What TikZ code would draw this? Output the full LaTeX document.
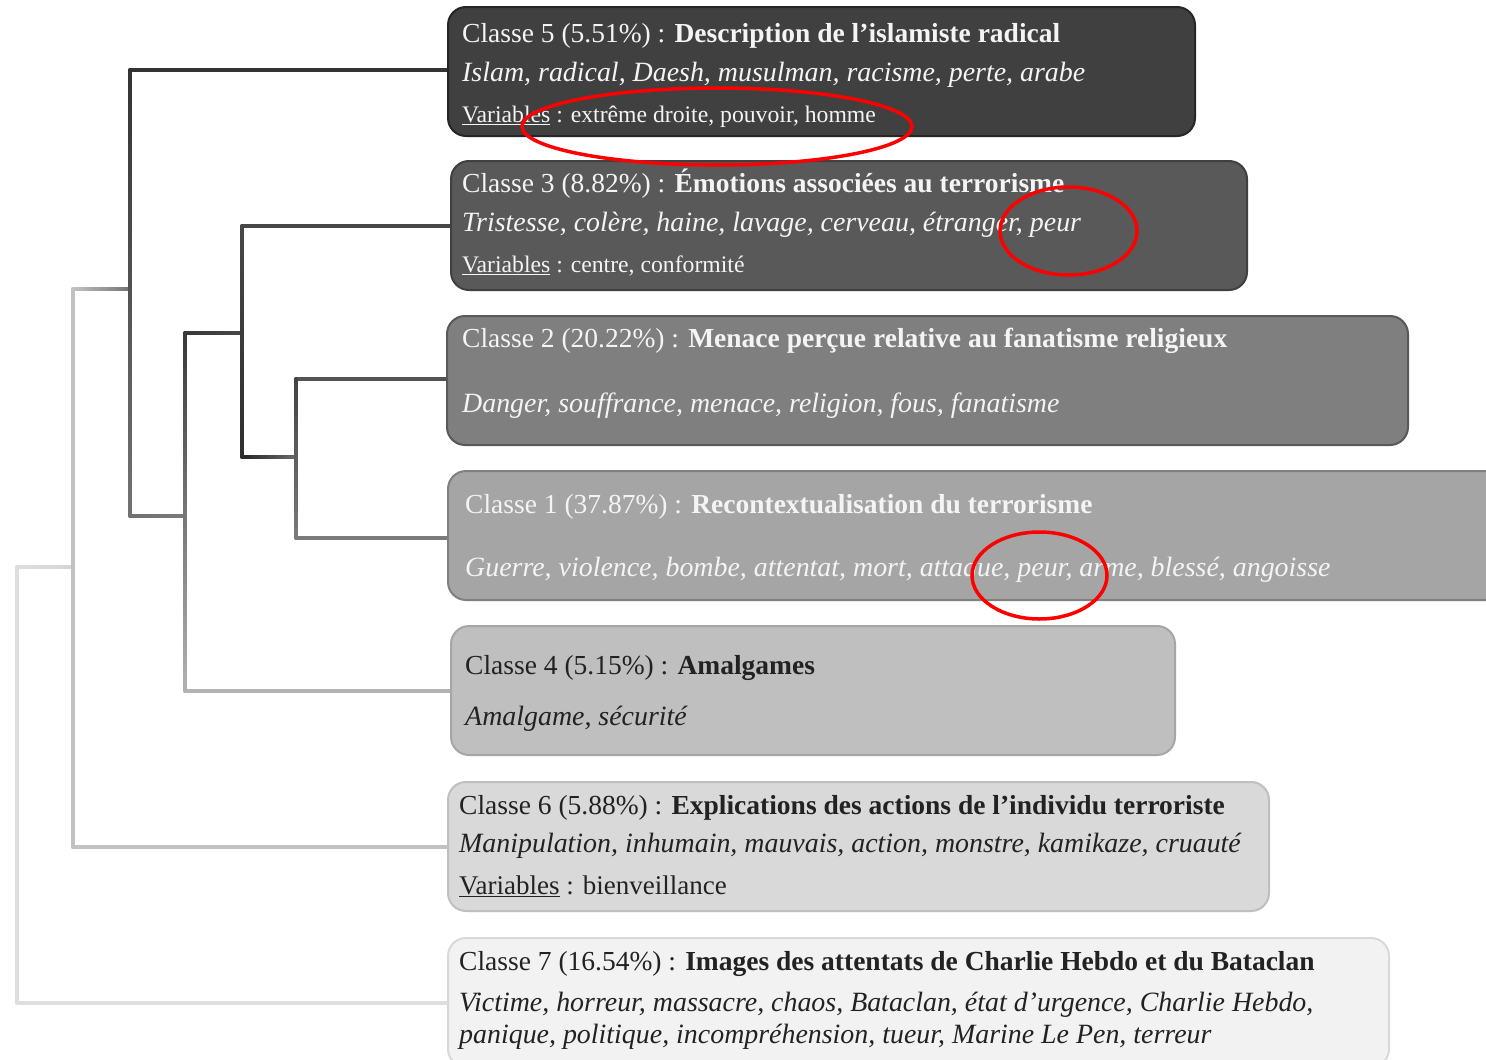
\documentclass[tikz,border=0pt]{standalone}
\usepackage{fontspec}
\setmainfont{Liberation Serif}
\usetikzlibrary{calc,backgrounds}
\definecolor{f5}{HTML}{404040}\definecolor{b5}{HTML}{262626}
\definecolor{f3}{HTML}{595959}\definecolor{b3}{HTML}{404040}
\definecolor{f2}{HTML}{7F7F7F}\definecolor{b2}{HTML}{595959}
\definecolor{f1}{HTML}{A5A5A5}\definecolor{b1}{HTML}{808080}
\definecolor{f4}{HTML}{BFBFBF}\definecolor{b4}{HTML}{A6A6A6}
\definecolor{f6}{HTML}{D9D9D9}\definecolor{b6}{HTML}{BFBFBF}
\definecolor{f7}{HTML}{F2F2F2}\definecolor{b7}{HTML}{D9D9D9}
\definecolor{lighttxt}{HTML}{F4F4F4}
\definecolor{darktxt}{HTML}{222222}
\newcommand\hseg[4]{\shade[left color=#3,right color=#4] ($(#1)+(0,-1.5)$) rectangle ($(#2)+(0,1.5)$);}
\newcommand\vseg[4]{\shade[top color=#3,bottom color=#4] ($(#1)+(-1.5,-1.5)$) rectangle ($(#2)+(1.5,1.5)$);}
\tikzset{
  cbox/.style={draw, rounded corners=18pt, line width=2pt, anchor=north west, minimum height=129pt, inner sep=0pt},
  ttl/.style={anchor=base west, inner sep=0pt, font=\fontsize{27.5}{33}\selectfont},
  itl/.style={anchor=base west, inner sep=0pt, font=\fontsize{27.9}{33}\selectfont\itshape},
  sml/.style={anchor=base west, inner sep=0pt, font=\fontsize{23.7}{28}\selectfont},
  lt/.style={text=lighttxt},
  dk/.style={text=darktxt},
  redring/.style={draw=red, line width=3.5pt}
}
\begin{document}
\begin{tikzpicture}[x=1pt,y=-1pt]
\useasboundingbox (0,0) rectangle (1486,1060);
\clip (0,0) rectangle (1486,1060);
% boxes
\node[cbox, fill=f5, draw=b5, minimum width=747pt] (n5) at (447,6) {};
\node[cbox, fill=f3, draw=b3, minimum width=796pt] (n3) at (450,160) {};
\node[cbox, fill=f2, draw=b2, minimum width=961pt] (n2) at (446,315) {};
\node[cbox, fill=f1, draw=b1, minimum width=1100pt] (n1) at (447,470) {};
\node[cbox, fill=f4, draw=b4, minimum width=724pt] (n4) at (450,625) {};
\node[cbox, fill=f6, draw=b6, minimum width=821pt] (n6) at (447,781) {};
\node[cbox, fill=f7, draw=b7, minimum width=941pt] (n7) at (447,937) {};
% joints
\coordinate (a) at (296,457);
\coordinate (b) at (242,333);
\coordinate (c) at (185,516);
\coordinate (d) at (130,289);
\coordinate (e) at (73,567);
\coordinate (f) at (17,784);
\coordinate (k5) at ($(n5.west -| d)+(0,-1.5)$);
\coordinate (k3) at (n3.west -| b);
\coordinate (k2) at ($(n2.west -| a)+(0,-2)$);
\coordinate (k1) at ($(n1.west -| a)+(0,2.5)$);
\coordinate (ka) at (a -| b);
\coordinate (kb) at (b -| c);
\coordinate (k4) at (n4.west -| c);
\coordinate (kc) at (c -| d);
\coordinate (kd) at (d -| e);
\coordinate (k6) at (n6.west -| e);
\coordinate (ke) at (e -| f);
\coordinate (k7) at (n7.west -| f);
\begin{scope}[on background layer]
\fill[white] (0,0) rectangle (1486,1060);
\hseg{k5}{k5 -| n5.west}{black!80}{black!80}
\hseg{k3}{n3.west}{black!72}{black!72}
\hseg{k2}{k2 -| n2.west}{black!67}{black!67}
\hseg{k1}{k1 -| n1.west}{black!52}{black!52}
\hseg{ka}{a}{black!85}{black!58}
\hseg{kb}{b}{black!78}{black!72}
\hseg{k4}{n4.west}{black!30}{black!30}
\hseg{kc}{c}{black!56}{black!52}
\hseg{kd}{d}{black!24}{black!55}
\hseg{k6}{n6.west}{black!24}{black!24}
\hseg{ke}{e}{black!13}{black!16}
\hseg{k7}{n7.west}{black!13}{black!13}
\vseg{k2}{k1}{black!74}{black!52}
\vseg{k3}{ka}{black!72}{black!82}
\vseg{kb}{k4}{black!78}{black!30}
\vseg{k5}{kc}{black!80}{black!55}
\vseg{kd}{k6}{black!24}{black!24}
\vseg{ke}{k7}{black!13}{black!13}
\end{scope}
% texts
\node[ttl, lt] (t5a) at (462,42.5) {Classe 5 (5.51\%) : \textbf{Description de l’islamiste radical}};
\node[itl, lt] (t5b) at (462,81) {Islam, radical, Daesh, musulman, racisme, perte, arabe};
\node[sml, lt] (t5c) at (462,122.7) {\underline{Variables} : extrême droite, pouvoir, homme};
\node[ttl, lt] (t3a) at (462,192.7) {Classe 3 (8.82\%) : \textbf{Émotions associées au terrorisme}};
\node[itl, lt] (t3b) at (462,231.5) {Tristesse, colère, haine, lavage, cerveau, étranger, peur};
\node[sml, lt] (t3c) at (462,272.7) {\underline{Variables} : centre, conformité};
\node[ttl, lt] (t2a) at (462,347.5) {Classe 2 (20.22\%) : \textbf{Menace perçue relative au fanatisme religieux}};
\node[itl, lt] (t2b) at (462,412.5) {Danger, souffrance, menace, religion, fous, fanatisme};
\node[ttl, lt] (t1a) at (465,513) {Classe 1 (37.87\%) : \textbf{Recontextualisation du terrorisme}};
\node[itl, lt] (t1b) at (465,576) {Guerre, violence, bombe, attentat, mort, attaque, peur, arme, blessé, angoisse};
\node[ttl, dk] (t4a) at (465,674.5) {Classe 4 (5.15\%) : \textbf{Amalgames}};
\node[itl, dk] (t4b) at (465,725.5) {Amalgame, sécurité};
\node[ttl, dk] (t6a) at (459,814.3) {Classe 6 (5.88\%) : \textbf{Explications des actions de l’individu terroriste}};
\node[itl, dk] (t6b) at (459,852.8) {Manipulation, inhumain, mauvais, action, monstre, kamikaze, cruauté};
\node[ttl, dk, font=\fontsize{27}{33}\selectfont] (t6c) at (459,894.3) {\underline{Variables} : bienveillance};
\node[ttl, dk] (t7a) at (459,970) {Classe 7 (16.54\%) : \textbf{Images des attentats de Charlie Hebdo et du Bataclan}};
\node[itl, dk] (t7b) at (459,1011) {Victime, horreur, massacre, chaos, Bataclan, état d’urgence, Charlie Hebdo,};
\node[itl, dk] (t7c) at (459,1043) {panique, politique, incompréhension, tueur, Marine Le Pen, terreur};
% red rings
\draw[redring] (717,126.5) ellipse [x radius=195pt, y radius=38.5pt];
\draw[redring] (1068.5,231) ellipse [x radius=68.5pt, y radius=44pt];
\draw[redring] (1039.5,575.5) ellipse [x radius=67.5pt, y radius=43.5pt];
\end{tikzpicture}
\end{document}
